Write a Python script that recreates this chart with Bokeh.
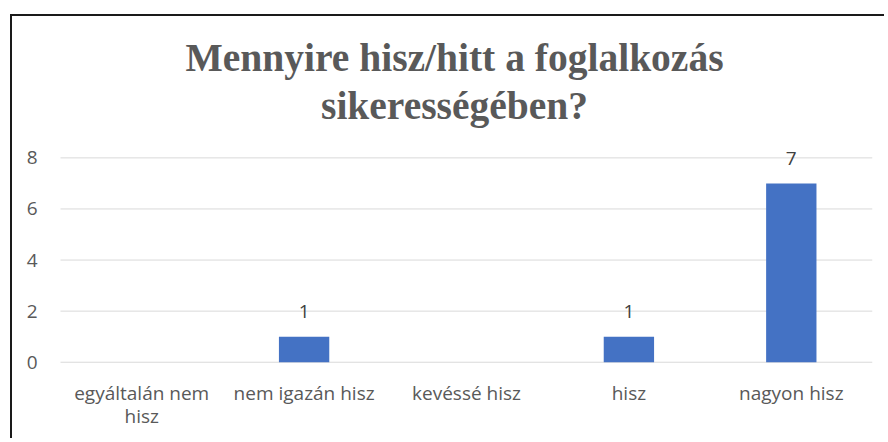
from bokeh.plotting import figure
from bokeh.models import Range1d, ColumnDataSource, LinearAxis, FixedTicker, Title
from bokeh.core.properties import value
from bokeh.embed import file_html
from bokeh.resources import INLINE

categories = ["egyáltalán nem hisz", "nem igazán hisz", "kevéssé hisz", "hisz", "nagyon hisz"]
label_line1 = ["egyáltalán nem", "nem igazán hisz", "kevéssé hisz", "hisz", "nagyon hisz"]
label_line2 = ["hisz", " ", " ", " ", " "]
counts = [0, 1, 0, 1, 7]
y_ticks = [0, 2, 4, 6, 8]
title_lines = ["Mennyire hisz/hitt a foglalkozás", "sikerességében?"]

TEXT = "#595959"
BAR = "#4472C4"
GRID = "#D9D9D9"
FONT = "Open Sans"
FS = "19px"

pos = list(range(len(categories)))
n = len(categories)

p = figure(width=874, height=424,
           x_range=Range1d(-0.5 - 24 / 162.4, n - 0.5), y_range=Range1d(-0.05, 9.15),
           output_backend="svg", toolbar_location=None,
           min_border_left=24, min_border_right=14, min_border_top=112, min_border_bottom=77)
p.outline_line_color = None
p.background_fill_color = "white"
p.border_fill_color = "white"
p.styles = {"margin-left": "12px", "margin-top": "16px", "overflow": "hidden",
            "box-shadow": "-2px -2px 0px 0px #1a1a1a"}

# horizontal grid lines spanning the category area only
p.xgrid.grid_line_color = None
p.ygrid.grid_line_color = None
p.segment(x0=[-0.5] * len(y_ticks), x1=[n - 0.5] * len(y_ticks), y0=y_ticks, y1=y_ticks,
          line_color=GRID, line_width=1)

p.vbar(x=pos, top=counts, width=0.31, fill_color=BAR, line_color=None)

lab = [(i, v) for i, v in zip(pos, counts) if v != 0]
src = ColumnDataSource(dict(x=[i for i, _ in lab], y=[v for _, v in lab], t=[str(v) for _, v in lab]))
p.text(x="x", y="y", text="t", source=src, text_align="center", text_baseline="alphabetic",
       y_offset=-25, text_color="#404040", text_font=value(FONT), text_font_size=FS)

p.yaxis.ticker = FixedTicker(ticks=y_ticks)
p.xaxis.ticker = FixedTicker(ticks=pos)

ax2 = LinearAxis(ticker=FixedTicker(ticks=pos))
p.add_layout(ax2, "below")

for ax in (p.xaxis[0], p.yaxis[0], ax2):
    ax.axis_line_color = None
    ax.major_tick_line_color = None
    ax.minor_tick_line_color = None
    ax.major_tick_out = 0
    ax.major_tick_in = 0
    ax.major_label_text_color = TEXT
    ax.major_label_text_font = FONT
    ax.major_label_text_font_size = FS

p.yaxis.major_label_standoff = -1
p.xaxis[0].major_label_standoff = 16
p.xaxis[0].major_label_overrides = dict(zip(pos, label_line1))
ax2.major_label_standoff = -6
ax2.major_label_overrides = dict(zip(pos, label_line2))

title_style = dict(align="center", text_font="Liberation Serif", text_font_style="bold",
                   text_font_size="39.5px", text_color=TEXT)
p.add_layout(Title(text=title_lines[1], standoff=2, **title_style), "above")
p.add_layout(Title(text=title_lines[0], standoff=2, **title_style), "above")

open("out.html", "w").write(file_html(p, INLINE))
